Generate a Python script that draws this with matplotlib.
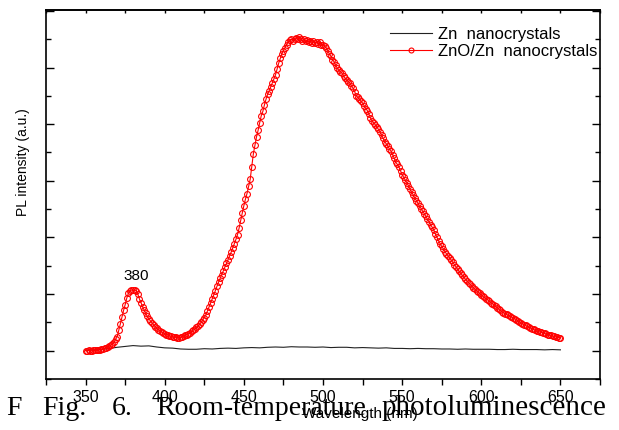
import numpy as np
import matplotlib
matplotlib.use("Agg")
import matplotlib.pyplot as plt
from matplotlib.ticker import MultipleLocator

plt.rcParams["font.family"] = ["Liberation Sans", "DejaVu Sans"]

# PL спектры, длина волны 350..650 нм с шагом 1 нм
wl_zno = np.arange(350, 651, 1)
pl_zno = [
    0.00, 0.00, 0.01, 0.00, 0.00, 0.01, 0.01, 0.02, 0.02, 0.03,
    0.05, 0.06, 0.08, 0.10, 0.12, 0.16, 0.20, 0.25, 0.30, 0.40,
    0.50, 0.72, 0.95, 1.18, 1.42, 1.62, 1.85, 2.02, 2.12, 2.14,
    2.13, 2.14, 2.12, 2.00, 1.83, 1.70, 1.55, 1.44, 1.32, 1.21,
    1.12, 1.05, 0.98, 0.91, 0.85, 0.79, 0.74, 0.70, 0.66, 0.63,
    0.60, 0.57, 0.55, 0.53, 0.51, 0.49, 0.48, 0.47, 0.46, 0.45,
    0.47, 0.49, 0.51, 0.54, 0.57, 0.60, 0.64, 0.68, 0.72, 0.77,
    0.82, 0.87, 0.93, 1.00, 1.08, 1.17, 1.26, 1.40, 1.55, 1.68,
    1.82, 1.97, 2.12, 2.27, 2.42, 2.55, 2.68, 2.82, 2.95, 3.08,
    3.22, 3.35, 3.48, 3.63, 3.78, 3.93, 4.10, 4.33, 4.60, 4.86,
    5.12, 5.35, 5.55, 5.80, 6.05, 6.50, 6.95, 7.25, 7.55, 7.78,
    8.05, 8.30, 8.45, 8.68, 8.88, 9.05, 9.18, 9.32, 9.45, 9.60,
    9.74, 9.95, 10.15, 10.32, 10.48, 10.60, 10.70, 10.80, 10.90, 10.98,
    11.00, 10.95, 11.02, 11.05, 11.00, 11.08, 11.02, 10.95, 11.00, 10.92,
    10.98, 10.90, 10.95, 10.88, 10.92, 10.85, 10.90, 10.82, 10.90, 10.80,
    10.78, 10.75, 10.70, 10.60, 10.48, 10.40, 10.28, 10.20, 10.08, 9.98,
    9.90, 9.85, 9.80, 9.70, 9.62, 9.55, 9.50, 9.45, 9.35, 9.27,
    9.15, 9.00, 8.95, 8.88, 8.80, 8.75, 8.65, 8.55, 8.48, 8.35,
    8.22, 8.10, 8.05, 7.98, 7.90, 7.82, 7.72, 7.62, 7.50, 7.38,
    7.30, 7.22, 7.12, 7.05, 6.92, 6.80, 6.65, 6.58, 6.48, 6.35,
    6.22, 6.12, 6.02, 5.93, 5.82, 5.70, 5.60, 5.50, 5.38, 5.30,
    5.20, 5.10, 5.02, 4.92, 4.84, 4.74, 4.64, 4.55, 4.44, 4.36,
    4.26, 4.12, 4.00, 3.88, 3.78, 3.68, 3.60, 3.50, 3.42, 3.35,
    3.28, 3.20, 3.12, 3.04, 2.96, 2.88, 2.80, 2.73, 2.66, 2.59,
    2.52, 2.46, 2.40, 2.34, 2.28, 2.22, 2.17, 2.12, 2.07, 2.02,
    1.97, 1.92, 1.88, 1.84, 1.80, 1.75, 1.70, 1.66, 1.62, 1.57,
    1.52, 1.47, 1.43, 1.38, 1.34, 1.31, 1.28, 1.25, 1.22, 1.19,
    1.16, 1.13, 1.10, 1.06, 1.02, 0.98, 0.95, 0.92, 0.89, 0.86,
    0.83, 0.80, 0.78, 0.75, 0.73, 0.70, 0.68, 0.66, 0.65, 0.63,
    0.61, 0.59, 0.57, 0.55, 0.54, 0.52, 0.51, 0.49, 0.48, 0.46,
    0.45,
]

wl_zn = np.arange(350, 651, 5)
pl_zn = [
    0.02, 0.03, 0.04, 0.08, 0.12, 0.15, 0.18, 0.16, 0.17, 0.13,
    0.10, 0.09, 0.06, 0.05, 0.05, 0.07, 0.06, 0.08, 0.09, 0.08,
    0.10, 0.11, 0.10, 0.12, 0.13, 0.12, 0.14, 0.13, 0.13, 0.12,
    0.13, 0.11, 0.12, 0.12, 0.10, 0.11, 0.10, 0.09, 0.10, 0.08,
    0.08, 0.07, 0.08, 0.07, 0.07, 0.06, 0.06, 0.05, 0.06, 0.05,
    0.05, 0.05, 0.04, 0.04, 0.05, 0.04, 0.04, 0.04, 0.03, 0.04,
    0.03,
]

fig = plt.figure(figsize=(6.19, 4.30), dpi=100)
ax = fig.add_axes([0.0743, 0.1186, 0.895, 0.8581])

ax.plot(wl_zn, pl_zn, color="#222222", lw=0.8, label="Zn  nanocrystals")
ax.plot(wl_zno, pl_zno, color="red", lw=0.8, marker="o", ms=4.2,
        mfc="none", mec="red", mew=0.8, label="ZnO/Zn  nanocrystals")

ax.set_xlim(325, 675)
ax.set_ylim(-1, 12.03)

ax.xaxis.set_major_locator(MultipleLocator(50))
ax.xaxis.set_minor_locator(MultipleLocator(25))
ax.yaxis.set_major_locator(MultipleLocator(2))
ax.yaxis.set_minor_locator(MultipleLocator(1))
ax.set_yticklabels([])
ax.tick_params(axis="x", which="both", direction="out", length=4.5, width=1,
               labelsize=11.5, pad=3.5, top=False)
ax.tick_params(axis="y", which="major", direction="in", length=6, width=1,
               right=True)
ax.tick_params(axis="y", which="minor", direction="in", length=3.5, width=1,
               right=True)
for s in ax.spines.values():
    s.set_linewidth(1.2)

# верхние засечки внутрь
sec = ax.secondary_xaxis("top")
sec.xaxis.set_major_locator(MultipleLocator(50))
sec.xaxis.set_minor_locator(MultipleLocator(25))
sec.tick_params(which="both", direction="in", length=2.5, width=1, labeltop=False)
sec.spines["top"].set_linewidth(1.2)

ax.text(382, 2.62, "380", ha="center", va="center", fontsize=11)

ax.legend(loc="upper left", bbox_to_anchor=(382 / 619, 0.956),
          bbox_transform=fig.transFigure, frameon=False, fontsize=12,
          borderpad=0, handlelength=2.5, handletextpad=0.33,
          labelspacing=0.1, markerscale=0.85, numpoints=1)

fig.text(23 / 619, 0.623, "PL intensity (a.u.)", rotation=90,
         ha="center", va="center", fontsize=10)

# подпись рисунка, наложенная снизу
cap_font = ["Liberation Serif", "DejaVu Serif"]
cap_y = 15 / 430
for word, xp, ha, fs in [("F", 6, "left", 20), ("Fig.", 42, "left", 20),
                         ("6.", 112, "left", 20),
                         ("Room-temperature", 156, "left", 20),
                         ("photoluminescence", 606, "right", 21)]:
    fig.text(xp / 619, cap_y, word, ha=ha, va="baseline",
             fontsize=fs, family=cap_font)

fig.text(360 / 619, 12.3 / 430, "Wavelength (nm)", ha="center",
         va="baseline", fontsize=11)

fig.savefig("out.png", dpi=100)
